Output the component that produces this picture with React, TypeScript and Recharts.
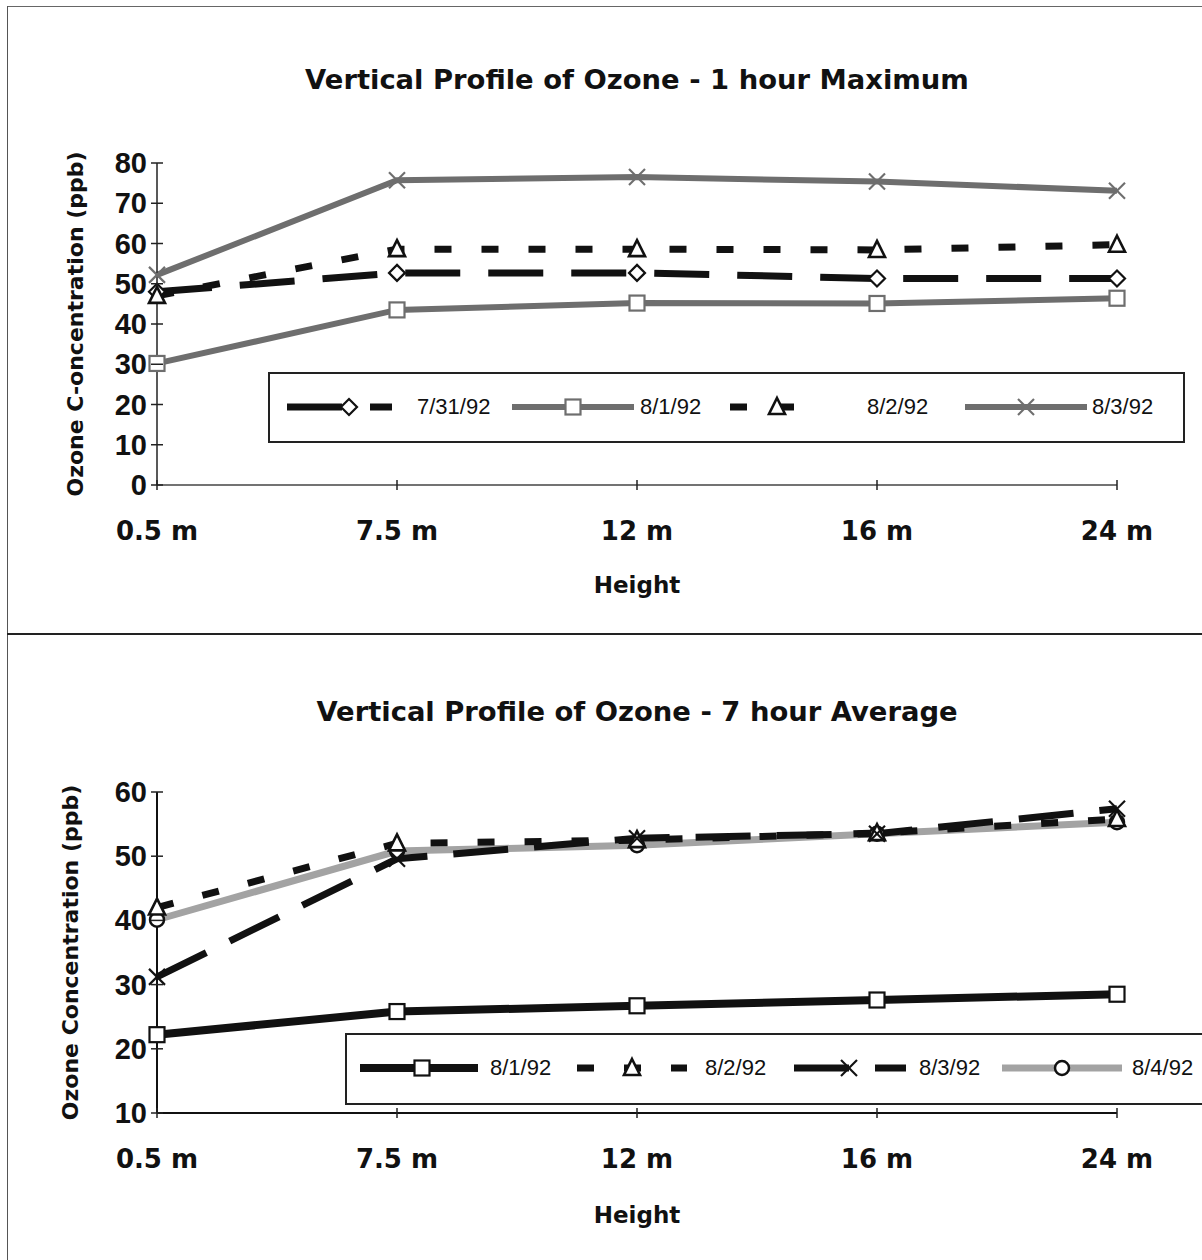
import React from 'react';
import { LineChart, Line, XAxis, YAxis, Legend, Label } from 'recharts';

// ---------- data ----------
const heights = ['0.5 m', '7.5 m', '12 m', '16 m', '24 m'];

// Top chart: 1 hour maximum
const max0731 = [48, 52.7, 52.7, 51.3, 51.3];
const max0801 = [30.2, 43.5, 45.2, 45.1, 46.4];
const max0802 = [47, 58.6, 58.6, 58.4, 59.7];
const max0803 = [52.2, 75.7, 76.5, 75.4, 73.1];
const topTicks = [0, 10, 20, 30, 40, 50, 60, 70, 80];

// Bottom chart: 7 hour average
const avg0801 = [22.2, 25.8, 26.7, 27.6, 28.5];
const avg0802 = [42, 52, 52.5, 53.6, 55.8];
const avg0803 = [31.2, 49.6, 52.8, 53.5, 57.4];
const avg0804 = [40.1, 50.8, 51.7, 53.5, 55.3];
const bottomTicks = [10, 20, 30, 40, 50, 60];

const topData = heights.map((h, i) => ({
  h,
  d0731: max0731[i],
  d0801: max0801[i],
  d0802: max0802[i],
  d0803: max0803[i],
}));
const bottomData = heights.map((h, i) => ({
  h,
  d0801: avg0801[i],
  d0802: avg0802[i],
  d0803: avg0803[i],
  d0804: avg0804[i],
}));

// ---------- styles ----------
const BOLD = "'Liberation Sans', Arial, sans-serif";
const WIDE = "'DejaVu Sans', 'Liberation Sans', sans-serif";
const DARK_GRAY = '#6e6e6e';
const LIGHT_GRAY = '#a3a3a3';

type Shape = 'diamond' | 'square' | 'triangle' | 'x' | 'circle';

type SeriesDef = {
  key: string;
  name: string;
  color: string;
  width: number;
  dash?: string;
  shape: Shape;
  markerColor: string;
};

const topSeries: SeriesDef[] = [
  { key: 'd0731', name: '7/31/92', color: '#111', width: 7, dash: '55 28', shape: 'diamond', markerColor: '#111' },
  { key: 'd0801', name: '8/1/92', color: DARK_GRAY, width: 6, shape: 'square', markerColor: DARK_GRAY },
  { key: 'd0802', name: '8/2/92', color: '#111', width: 7, dash: '17 30', shape: 'triangle', markerColor: '#111' },
  { key: 'd0803', name: '8/3/92', color: DARK_GRAY, width: 6, shape: 'x', markerColor: DARK_GRAY },
];

const bottomSeries: SeriesDef[] = [
  { key: 'd0801', name: '8/1/92', color: '#111', width: 8, shape: 'square', markerColor: '#111' },
  { key: 'd0804', name: '8/4/92', color: LIGHT_GRAY, width: 7, shape: 'circle', markerColor: '#111' },
  { key: 'd0802', name: '8/2/92', color: '#111', width: 7, dash: '17 30', shape: 'triangle', markerColor: '#111' },
  { key: 'd0803', name: '8/3/92', color: '#111', width: 7, dash: '55 26', shape: 'x', markerColor: '#111' },
];

// legend layout (relative to legend box): sample start, sample width, marker offset, text x
type LegendItem = { key: string; sx: number; sw: number; mx: number; tx: number };
const topLegendBox = { left: 268, top: 372, width: 917, height: 71 };
const topLegendItems: LegendItem[] = [
  { key: 'd0731', sx: 17, sw: 105, mx: 62, tx: 147 },
  { key: 'd0801', sx: 242, sw: 122, mx: 61, tx: 370 },
  { key: 'd0802', sx: 460, sw: 94, mx: 47, tx: 597 },
  { key: 'd0803', sx: 695, sw: 122, mx: 61, tx: 822 },
];
const bottomLegendBox = { left: 345, top: 398, width: 870, height: 72 };
const bottomLegendItems: LegendItem[] = [
  { key: 'd0801', sx: 13, sw: 118, mx: 62, tx: 143 },
  { key: 'd0802', sx: 230, sw: 110, mx: 55, tx: 358 },
  { key: 'd0803', sx: 447, sw: 112, mx: 55, tx: 572 },
  { key: 'd0804', sx: 655, sw: 120, mx: 60, tx: 785 },
];

// ---------- markers ----------
function marker(shape: Shape, cx: number, cy: number, color: string, k?: string | number) {
  const sw = 2.2;
  switch (shape) {
    case 'diamond':
      return (
        <path key={k} d={`M${cx},${cy - 8} L${cx + 8},${cy} L${cx},${cy + 8} L${cx - 8},${cy} Z`} fill="#fff" stroke={color} strokeWidth={sw} />
      );
    case 'square':
      return <rect key={k} x={cx - 7.5} y={cy - 7.5} width={15} height={15} fill="#fff" stroke={color} strokeWidth={sw} />;
    case 'triangle':
      return (
        <path key={k} d={`M${cx},${cy - 9} L${cx + 8},${cy + 7} L${cx - 8},${cy + 7} Z`} fill="#fff" stroke={color} strokeWidth={sw + 0.4} />
      );
    case 'x':
      return (
        <g key={k}>
          <line x1={cx - 8} y1={cy - 8} x2={cx + 8} y2={cy + 8} stroke={color} strokeWidth={sw} />
          <line x1={cx - 8} y1={cy + 8} x2={cx + 8} y2={cy - 8} stroke={color} strokeWidth={sw} />
        </g>
      );
    case 'circle':
    default:
      return <circle key={k} cx={cx} cy={cy} r={7} fill="#fff" stroke={color} strokeWidth={sw + 0.3} />;
  }
}

const makeDot = (s: SeriesDef) => (props: any) => {
  const { cx, cy, index } = props;
  if (cx == null || cy == null) return <g key={`${s.key}-${index}`} />;
  return marker(s.shape, cx, cy, s.markerColor, `${s.key}-${index}`);
};

// ---------- ticks ----------
const YTick = (props: any) => {
  const { x, y, payload } = props;
  return (
    <g>
      <line x1={x - 6} x2={x + 6} y1={y} y2={y} stroke="#222" strokeWidth={1.5} />
      <text x={x - 10} y={y + 10} textAnchor="end" fontFamily={BOLD} fontWeight="bold" fontSize={29} fill="#111">
        {payload.value}
      </text>
    </g>
  );
};

const XTick = (props: any) => {
  const { x, y, payload } = props;
  return (
    <g>
      <line x1={x} x2={x} y1={y - 5} y2={y + 5} stroke="#222" strokeWidth={1.5} />
      <text x={x} y={y + 55} textAnchor="middle" fontFamily={WIDE} fontWeight="bold" fontSize={26} fill="#111">
        {payload.value}
      </text>
    </g>
  );
};

const yLabel = (text: string, dxCenter: number) => (props: any) => {
  const vb = props.viewBox || {};
  const cx = (vb.x || 0) + dxCenter;
  const cy = (vb.y || 0) + (vb.height || 0) / 2;
  return (
    <text
      x={cx}
      y={cy}
      transform={`rotate(-90, ${cx}, ${cy})`}
      textAnchor="middle"
      dominantBaseline="central"
      fontFamily={WIDE}
      fontWeight="bold"
      fontSize={22}
      fill="#111"
    >
      {text}
    </text>
  );
};

const xLabel = (text: string, dy: number) => (props: any) => {
  const vb = props.viewBox || {};
  const cx = (vb.x || 0) + (vb.width || 0) / 2;
  return (
    <text x={cx} y={(vb.y || 0) + dy} textAnchor="middle" fontFamily={WIDE} fontWeight="bold" fontSize={23} fill="#111">
      {text}
    </text>
  );
};

// ---------- legend ----------
const makeLegend = (series: SeriesDef[], items: LegendItem[], box: { width: number; height: number }) => () => (
  <div
    style={{
      position: 'relative',
      width: box.width,
      height: box.height,
      border: '2px solid #222',
      boxSizing: 'border-box',
      background: '#fff',
    }}
  >
    {items.map((it) => {
      const s = series.find((q) => q.key === it.key)!;
      return (
        <React.Fragment key={it.key}>
          <svg style={{ position: 'absolute', left: it.sx, top: 18 }} width={it.sw} height={30}>
            <line x1={0} x2={it.sw} y1={15} y2={15} stroke={s.color} strokeWidth={s.width} strokeDasharray={s.dash} />
            {marker(s.shape, it.mx, 15, s.markerColor)}
          </svg>
          <span
            style={{
              position: 'absolute',
              left: it.tx,
              top: 20,
              fontFamily: "'Liberation Sans', Arial, sans-serif",
              fontSize: 22,
              lineHeight: '26px',
              color: '#111',
              whiteSpace: 'nowrap',
            }}
          >
            {s.name}
          </span>
        </React.Fragment>
      );
    })}
  </div>
);

const titleStyle = (top: number): React.CSSProperties => ({
  position: 'absolute',
  left: 157,
  width: 960,
  top,
  height: 40,
  lineHeight: '40px',
  textAlign: 'center',
  fontFamily: WIDE,
  fontWeight: 'bold',
  fontSize: 27.4,
  color: '#111',
  whiteSpace: 'nowrap',
  zIndex: 2,
});

export default function App() {
  return (
    <div style={{ position: 'absolute', left: 0, top: 0, width: 1202, height: 1260, background: '#fff', overflow: 'hidden' }}>
      {/* frame lines */}
      <div style={{ position: 'absolute', left: 7, top: 6, width: 1195, height: 0, borderTop: '1.5px solid #666' }} />
      <div style={{ position: 'absolute', left: 7, top: 6, width: 0, height: 1254, borderLeft: '1.5px solid #555' }} />
      <div style={{ position: 'absolute', left: 7, top: 633, width: 1195, height: 0, borderTop: '2px solid #222' }} />

      {/* top chart */}
      <div style={titleStyle(60)}>Vertical Profile of Ozone - 1 hour Maximum</div>
      <div style={{ position: 'absolute', left: 0, top: 0 }}>
        <LineChart width={1202} height={635} data={topData} margin={{ top: 163, right: 85, bottom: 40, left: 67 }}>
          <XAxis
            dataKey="h"
            height={110}
            tickSize={0}
            tickMargin={0}
            tick={<XTick />}
            axisLine={{ stroke: '#444', strokeWidth: 1.5 }}
            interval={0}
          >
            <Label content={xLabel('Height', 108)} />
          </XAxis>
          <YAxis
            width={90}
            domain={[0, 80]}
            ticks={topTicks}
            tickSize={0}
            tickMargin={0}
            tick={<YTick />}
            axisLine={{ stroke: '#222', strokeWidth: 1.5 }}
            interval={0}
          >
            <Label content={yLabel('Ozone C-oncentration (ppb)', 8)} />
          </YAxis>
          <Legend
            layout="vertical"
            align="center"
            verticalAlign="middle"
            content={makeLegend(topSeries, topLegendItems, topLegendBox)}
            wrapperStyle={{ left: topLegendBox.left, top: topLegendBox.top, width: topLegendBox.width, height: topLegendBox.height }}
          />
          {topSeries.map((s) => (
            <Line
              key={s.key}
              type="linear"
              dataKey={s.key}
              name={s.name}
              stroke={s.color}
              strokeWidth={s.width}
              strokeDasharray={s.dash}
              dot={makeDot(s)}
              activeDot={false}
              isAnimationActive={false}
            />
          ))}
        </LineChart>
      </div>

      {/* bottom chart */}
      <div style={titleStyle(692)}>Vertical Profile of Ozone - 7 hour Average</div>
      <div style={{ position: 'absolute', left: 0, top: 635 }}>
        <LineChart width={1202} height={625} data={bottomData} margin={{ top: 157, right: 85, bottom: 37, left: 62 }}>
          <XAxis
            dataKey="h"
            height={110}
            tickSize={0}
            tickMargin={0}
            tick={<XTick />}
            axisLine={{ stroke: '#111', strokeWidth: 2 }}
            interval={0}
          >
            <Label content={xLabel('Height', 110)} />
          </XAxis>
          <YAxis
            width={95}
            domain={[10, 60]}
            ticks={bottomTicks}
            tickSize={0}
            tickMargin={0}
            tick={<YTick />}
            axisLine={{ stroke: '#111', strokeWidth: 2 }}
            interval={0}
          >
            <Label content={yLabel('Ozone Concentration (ppb)', 8)} />
          </YAxis>
          <Legend
            layout="vertical"
            align="center"
            verticalAlign="middle"
            content={makeLegend(bottomSeries, bottomLegendItems, bottomLegendBox)}
            wrapperStyle={{ left: bottomLegendBox.left, top: bottomLegendBox.top, width: bottomLegendBox.width, height: bottomLegendBox.height }}
          />
          {bottomSeries.map((s) => (
            <Line
              key={s.key}
              type="linear"
              dataKey={s.key}
              name={s.name}
              stroke={s.color}
              strokeWidth={s.width}
              strokeDasharray={s.dash}
              dot={makeDot(s)}
              activeDot={false}
              isAnimationActive={false}
            />
          ))}
        </LineChart>
      </div>
    </div>
  );
}
